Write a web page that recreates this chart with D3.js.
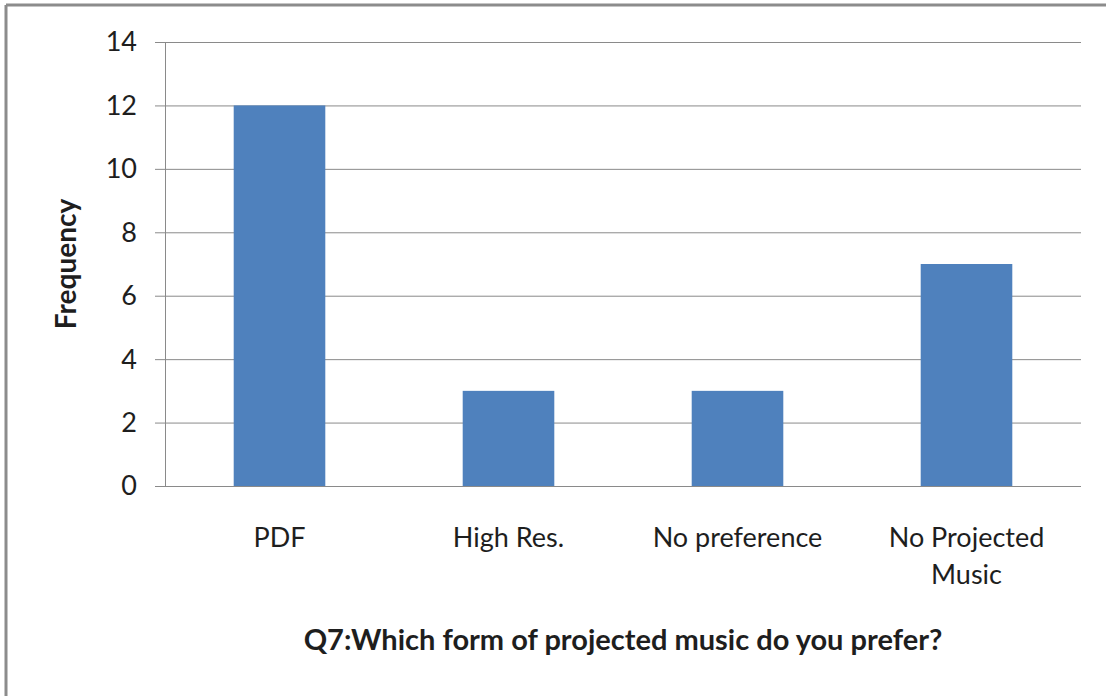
<!DOCTYPE html>
<html>
<head>
<meta charset="utf-8">
<script src="https://cdn.jsdelivr.net/npm/d3@7/dist/d3.min.js"></script>
<style>
  html, body { margin: 0; padding: 0; background: #fff; }
  svg { display: block; }
  text { font-family: Lato, "Open Sans", "Liberation Sans", sans-serif; fill: #1e1e1e; }
</style>
</head>
<body>
<svg id="chart" width="1106" height="696"></svg>
<script>
// Survey answers for question 7
const categories = [["PDF"], ["High Res."], ["No preference"], ["No Projected", "Music"]];
const frequency = [12, 3, 3, 7];
const yTicks = [0, 2, 4, 6, 8, 10, 12, 14];
const xTitle = "Q7:Which form of projected music do you prefer?";
const yTitle = "Frequency";

const svg = d3.select("#chart");
const W = 1106, H = 696;
const plot = { left: 165, right: 1081, top: 42, bottom: 486 };

// outer frame (top and left edges)
svg.append("rect").attr("x", 0).attr("y", 0).attr("width", W).attr("height", H).attr("fill", "#fff");
svg.append("line").attr("x1", 6).attr("x2", W).attr("y1", 5).attr("y2", 5)
  .attr("stroke", "#8c8c8c").attr("stroke-width", 3);
svg.append("line").attr("x1", 6).attr("x2", 6).attr("y1", 5).attr("y2", H)
  .attr("stroke", "#8c8c8c").attr("stroke-width", 3);

const x = d3.scaleBand()
  .domain(categories.map((c, i) => i))
  .range([plot.left, plot.right])
  .paddingInner(0.6).paddingOuter(0.3);

const y = d3.scaleLinear().domain([0, 14]).range([plot.bottom, plot.top]);

// horizontal gridlines
svg.append("g").selectAll("line").data(yTicks).join("line")
  .attr("x1", plot.left - 10).attr("x2", plot.right)
  .attr("y1", d => y(d) + 0.5).attr("y2", d => y(d) + 0.5)
  .attr("stroke", "#8a8a8a").attr("stroke-width", 1);

// bars
svg.append("g").selectAll("rect").data(frequency).join("rect")
  .attr("x", (d, i) => x(i))
  .attr("width", x.bandwidth())
  .attr("y", d => y(d))
  .attr("height", d => y(0) - y(d))
  .attr("fill", "#4f81bd");

// y axis line
svg.append("line").attr("x1", plot.left + 0.5).attr("x2", plot.left + 0.5)
  .attr("y1", plot.top).attr("y2", plot.bottom)
  .attr("stroke", "#8a8a8a").attr("stroke-width", 1);

// y tick labels
svg.append("g").selectAll("text").data(yTicks).join("text")
  .attr("x", 137).attr("y", d => y(d))
  .attr("dy", "0.35em").attr("text-anchor", "end")
  .attr("font-size", 27).text(d => d);

// category labels
const cat = svg.append("g").selectAll("text").data(categories).join("text")
  .attr("text-anchor", "middle").attr("font-size", 27)
  .attr("x", (d, i) => x(i) + x.bandwidth() / 2)
  .attr("y", 547);
cat.selectAll("tspan").data(d => d).join("tspan")
  .attr("x", function () { return d3.select(this.parentNode).attr("x"); })
  .attr("dy", (d, i) => i === 0 ? 0 : 37)
  .text(d => d);

// axis titles
svg.append("text").attr("x", (plot.left + plot.right) / 2).attr("y", 650)
  .attr("text-anchor", "middle").attr("font-size", 29).attr("font-weight", "bold")
  .text(xTitle);
svg.append("text")
  .attr("transform", `translate(76, ${(plot.top + plot.bottom) / 2}) rotate(-90)`)
  .attr("text-anchor", "middle").attr("font-size", 28).attr("font-weight", "bold")
  .text(yTitle);
</script>
</body>
</html>
